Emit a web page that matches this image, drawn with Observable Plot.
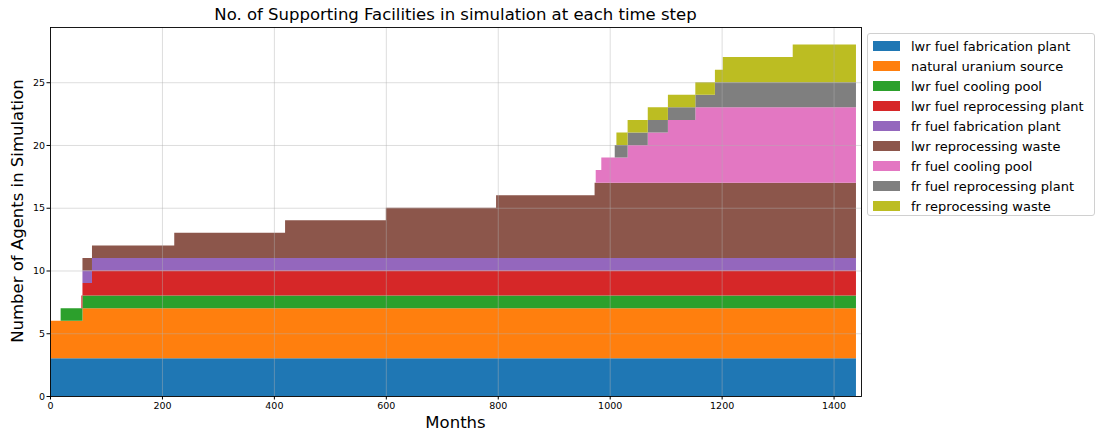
<!DOCTYPE html>
<html><head><meta charset="utf-8">
<script src="https://cdn.jsdelivr.net/npm/d3@7"></script>
<script src="https://cdn.jsdelivr.net/npm/@observablehq/plot@0.6"></script>
<style>
body{margin:0;background:#fff;font-family:"DejaVu Sans",sans-serif;}
#wrap{position:relative;width:1103px;height:435px;overflow:hidden;}
#title{position:absolute;left:50px;width:811px;top:5px;text-align:center;font-size:16.5px;color:#000;white-space:nowrap;}
#xlabel{position:absolute;left:50px;width:811px;top:413px;text-align:center;font-size:16.5px;}
#ylabel{position:absolute;left:17px;top:211px;transform:translate(-50%,-50%) rotate(-90deg);font-size:16.5px;white-space:nowrap;}
#legend{position:absolute;left:867px;top:33px;width:228px;height:183px;border:1px solid #d0d0d0;border-radius:3px;box-sizing:border-box;padding-top:2px;}
.row{height:20px;display:flex;align-items:center;font-size:13px;white-space:nowrap;}
.patch{width:27px;height:9.5px;margin-left:5px;margin-right:11px;}
svg{position:absolute;left:0;top:0;}
</style>
</head><body>
<div id="wrap">
<div id="title">No. of Supporting Facilities in simulation at each time step</div>
<div id="ylabel">Number of Agents in Simulation</div>
<div id="xlabel">Months</div>
<div id="legend"></div>
</div>
<script>
const names = ["lwr fuel fabrication plant","natural uranium source","lwr fuel cooling pool","lwr fuel reprocessing plant","fr fuel fabrication plant","lwr reprocessing waste","fr fuel cooling pool","fr fuel reprocessing plant","fr reprocessing waste"];
const colors = ["#1f77b4","#ff7f0e","#2ca02c","#d62728","#9467bd","#8c564b","#e377c2","#7f7f7f","#bcbd22"];
// [month, count] change points
const lwrFuelFabricationPlant = [[0,3]];
const naturalUraniumSource = [[0,3],[58,4]];
const lwrFuelCoolingPool = [[19,1]];
const lwrFuelReprocessingPlant = [[56,1],[75,2]];
const frFuelFabricationPlant = [[58,1]];
const lwrReprocessingWaste = [[58,1],[222,2],[420,3],[600,4],[797,5],[973,6]];
const frFuelCoolingPool = [[975,1],[985,2],[1032,3],[1068,4],[1104,5],[1153,6]];
const frFuelReprocessingPlant = [[1009,1],[1188,2]];
const frReprocessingWaste = [[1012,1],[1202,2],[1327,3]];
const endMonth = 1440;
const xTicks = [0,200,400,600,800,1000,1200,1400];
const yTicks = [0,5,10,15,20,25];

const series = [lwrFuelFabricationPlant,naturalUraniumSource,lwrFuelCoolingPool,lwrFuelReprocessingPlant,frFuelFabricationPlant,lwrReprocessingWaste,frFuelCoolingPool,frFuelReprocessingPlant,frReprocessingWaste];
const times = Array.from(new Set(series.flatMap(s => s.map(d => d[0])).concat([endMonth]))).sort((a,b)=>a-b);
const rows = [];
series.forEach((s, i) => {
  times.forEach(t => {
    let v = 0;
    for (const [m, c] of s) if (m <= t) v = c;
    rows.push({name: names[i], t, v});
  });
});

const chart = Plot.plot({
  width: 1103, height: 435,
  marginLeft: 50, marginRight: 242, marginTop: 27, marginBottom: 39,
  style: {fontFamily: "DejaVu Sans", fontSize: "9.5px", color: "#000", background: "transparent"},
  x: {domain: [0, 1449]},
  y: {domain: [0, 29.4]},
  color: {domain: names, range: colors},
  marks: [
    Plot.areaY(rows, {x: "t", y: "v", z: "name", fill: "name", order: names, curve: "step-after"}),
    Plot.gridX(xTicks, {stroke: "#b0b0b0", strokeOpacity: 0.55, strokeWidth: 0.8}),
    Plot.gridY(yTicks, {stroke: "#b0b0b0", strokeOpacity: 0.55, strokeWidth: 0.8}),
    Plot.axisX(xTicks, {tickSize: 3.5, tickPadding: 2, label: null, stroke: "#000", tickFormat: d => String(d)}),
    Plot.axisY(yTicks, {tickSize: 3.5, tickPadding: 2, label: null, stroke: "#000", tickFormat: d => String(d)}),
    Plot.frame({stroke: "#000", strokeWidth: 0.9})
  ]
});
document.getElementById("wrap").prepend(chart);

const leg = document.getElementById("legend");
names.forEach((n, i) => {
  const r = document.createElement("div"); r.className = "row";
  const p = document.createElement("span"); p.className = "patch"; p.style.background = colors[i];
  const t = document.createElement("span"); t.textContent = n;
  r.append(p, t); leg.append(r);
});
</script>
</body></html>
